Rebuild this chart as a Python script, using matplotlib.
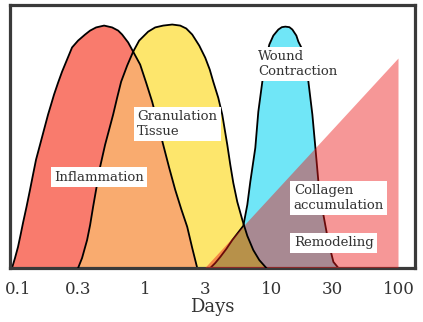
import matplotlib
matplotlib.use("Agg")
import matplotlib.pyplot as plt
from matplotlib.ticker import NullLocator

# curves (days, height in % of the frame)
infl_days = [0.0897, 0.0947, 0.100, 0.1047, 0.1095, 0.1167, 0.1244, 0.1313, 0.1387, 0.1492,
             0.1604, 0.1725, 0.1822, 0.1923, 0.2069, 0.2225, 0.2436, 0.2668, 0.2976, 0.338,
             0.3703, 0.4128, 0.4774, 0.5523, 0.616, 0.6622, 0.7387, 0.809, 0.9188, 1.0245,
             1.1426, 1.2628, 1.3955, 1.5565, 1.7354, 1.9357, 2.159, 2.3638, 2.5888]
infl_level = [0, 3.8, 8.0, 12.5, 17.1, 23.2, 29.7, 35.4, 41.1, 46.8,
              52.5, 58.2, 62.0, 65.8, 70.3, 74.5, 79.1, 83.7, 86.3, 88.6,
              90.1, 91.3, 92.0, 91.3, 90.1, 88.6, 85.6, 82.1, 77.2, 70.3,
              63.1, 55.1, 46.8, 38.0, 29.7, 22.4, 15.6, 7.6, 0]

gran_days = [0.2977, 0.32, 0.3505, 0.3703, 0.3909, 0.4166, 0.444, 0.4862, 0.523, 0.5623,
             0.6047, 0.6503, 0.7254, 0.809, 0.9021, 1.0624, 1.2066, 1.3955, 1.6435, 1.9008,
             2.1203, 2.3638, 2.6853, 2.9946, 3.2496, 3.4635, 3.7929, 4.0786, 4.2679, 4.4668,
             4.7175, 4.983, 5.3565, 5.868, 6.4268, 7.1647, 7.9906, 9.0768]
gran_level = [0, 3.8, 10.6, 16.3, 23.2, 30.8, 38.4, 46.8, 52.5, 58.2,
              64.6, 70.7, 76.8, 82.1, 86.3, 89.7, 91.3, 92.0, 92.4, 92.0,
              90.9, 88.6, 84.4, 79.8, 75.3, 70.7, 64.6, 58.2, 52.5, 46.8,
              39.2, 32.3, 25.1, 18.3, 12.2, 6.8, 3.0, 0]

contr_days = [3.2806, 3.5921, 3.9332, 4.3858, 4.8931, 5.9757, 6.4268, 6.7838, 7.4302, 7.8472,
              8.4388, 9.0768, 9.5843, 10.307, 11.288, 12.031, 12.82, 13.789, 14.56, 15.653,
              16.24, 17.463, 18.11, 18.95, 19.48, 20.94, 22.12, 23.36, 25.57, 28.01,
              30.68, 33.59]
contr_level = [0, 1.9, 4.2, 7.2, 10.6, 16.0, 24.0, 32.7, 45.6, 59.3,
               70.7, 79.8, 84.8, 88.2, 90.5, 91.4, 91.6, 91.4, 90.5, 88.2,
               85.9, 82.9, 79.8, 75.3, 70.7, 58.2, 45.6, 32.7, 20.2, 9.9,
               2.3, 0]

coll_days = [3, 100, 100]
coll_level = [0, 79.5, 0]

tick_vals = [0.1, 0.3, 1, 3, 10, 30, 100]
tick_text = ["0.1", "0.3", "1", "3", "10", "30", "100"]

plt.rcParams['font.family'] = ['DejaVu Serif']
txt = "#333333"

fig = plt.figure(figsize=(4.23, 3.22), dpi=100)
ax = fig.add_axes([9.5 / 423, 54 / 322, 405 / 423, 263.5 / 322])
ax.set_xscale('log')
ax.set_xlim(0.0857, 133.7)
ax.set_ylim(0, 100)

# filled bumps
red = ax.fill(infl_days, infl_level, color="#F97B6D", lw=0, zorder=1)[0]
ax.fill(gran_days, gran_level, color="#FDE66C", lw=0, zorder=1.1)
over = ax.fill(gran_days, gran_level, color="#F9AB6F", lw=0, zorder=1.2)[0]
over.set_clip_path(red)
cyan = ax.fill(contr_days, contr_level, color="#70E6F7", lw=0, zorder=1.3)[0]
green = ax.fill(gran_days, gran_level, color="#8CF573", lw=0, zorder=1.4)[0]
green.set_clip_path(cyan)

# outlines
ax.plot(infl_days, infl_level, color="black", lw=1.3, zorder=1.5)
ax.plot(contr_days, contr_level, color="black", lw=1.3, zorder=1.5)
ax.plot(gran_days, gran_level, color="black", lw=1.3, zorder=3)

# collagen triangle on top, see-through
ax.fill(coll_days, coll_level, color="#ED1818", alpha=0.45, lw=0, zorder=2.6)

box = dict(facecolor="white", edgecolor="none", pad=2.5)
ax.text(0.221, 0.345, "Inflammation", transform=ax.transAxes, ha="center", va="center",
        fontsize=9.5, color=txt, bbox=box, zorder=5)
ax.text(0.315, 0.547, "Granulation\nTissue", transform=ax.transAxes, ha="left", va="center",
        fontsize=9.5, color=txt, bbox=box, zorder=5, linespacing=1.15)
ax.text(0.614, 0.774, "Wound\nContraction", transform=ax.transAxes, ha="left", va="center",
        fontsize=9.5, color=txt, bbox=box, zorder=5, linespacing=1.15)
ax.text(0.702, 0.266, "Collagen\naccumulation", transform=ax.transAxes, ha="left", va="center",
        fontsize=9.5, color=txt, bbox=box, zorder=5, linespacing=1.15)
ax.text(0.702, 0.095, "Remodeling", transform=ax.transAxes, ha="left", va="center",
        fontsize=9.5, color=txt, bbox=box, zorder=5)

ax.set_xticks(tick_vals)
ax.set_xticklabels(tick_text)
ax.xaxis.set_minor_locator(NullLocator())
ax.set_yticks([])
ax.tick_params(axis='x', length=0, pad=9, labelsize=12, labelcolor=txt)
ax.set_xlabel("Days", fontsize=13, color=txt, labelpad=0)

for s in ax.spines.values():
    s.set_linewidth(2.3)
    s.set_color("#3a3a3a")

fig.savefig("out.png", dpi=100)
